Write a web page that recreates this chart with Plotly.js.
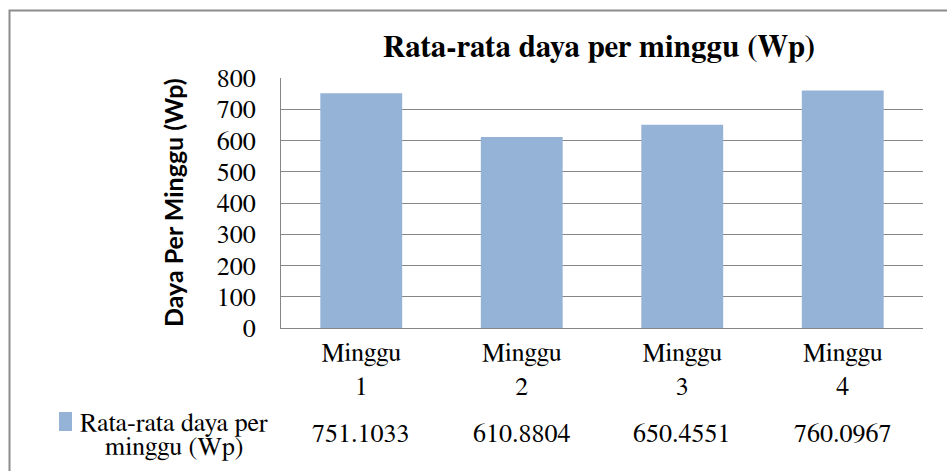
<!DOCTYPE html>
<html><head><meta charset="utf-8">
<script src="https://cdn.plot.ly/plotly-3.0.1.min.js"></script>
<style>html,body{margin:0;padding:0;background:#fff}#c{width:947px;height:471px}</style>
</head><body><div id="c"></div>
<script>
const categories = ["Minggu 1", "Minggu 2", "Minggu 3", "Minggu 4"];
const tickLabels = ["Minggu<br>1", "Minggu<br>2", "Minggu<br>3", "Minggu<br>4"];
const values = [751.1033, 610.8804, 650.4551, 760.0967];
const valueLabels = ["751.1033", "610.8804", "650.4551", "760.0967"];
const seriesNameLines = ["Rata-rata daya per", "minggu (Wp)"];
const chartTitle = "Rata-rata daya per minggu (Wp)";
const yTitle = "Daya Per Minggu (Wp)";

const W = 947, H = 471, L = 281, R = 24, T = 78, B = 143;
const pw = W - L - R, ph = H - T - B;
const px = x => (x - L) / pw;
const py = y => (H - B - y) / ph;
const serif = "FreeSerif, 'DejaVu Serif Condensed', serif";

const annotations = [];
categories.forEach((c, i) => {
  annotations.push({x: c, xref: "x", y: py(434), yref: "paper", text: valueLabels[i],
    showarrow: false, font: {family: serif, size: 26, color: "#000"}, xanchor: "center", yanchor: "middle"});
});
const legendY = [423, 447];
seriesNameLines.forEach((t, i) => {
  annotations.push({x: px(174), xref: "paper", y: py(legendY[i]), yref: "paper", text: t,
    showarrow: false, font: {family: serif, size: 26, color: "#000"}, xanchor: "center", yanchor: "middle"});
});
annotations.push({x: px(173), xref: "paper", y: py(203), yref: "paper", text: "<b>" + yTitle + "</b>",
  textangle: -90, showarrow: false, font: {family: "Lato", size: 25, color: "#000"}, xanchor: "center", yanchor: "middle"});
annotations.push({x: px(599), xref: "paper", y: py(48), yref: "paper", text: "<b>" + chartTitle + "</b>",
  showarrow: false, font: {family: serif, size: 31, color: "#000"}, xanchor: "center", yanchor: "middle"});

const shapes = [
  {type: "rect", xref: "paper", yref: "paper", x0: px(9.5), x1: px(960), y0: py(490), y1: py(10.5),
   line: {color: "#8c8c8c", width: 2}, fillcolor: "rgba(0,0,0,0)", layer: "below"},
  {type: "rect", xref: "paper", yref: "paper", x0: px(59), x1: px(72), y0: py(431), y1: py(412),
   line: {width: 0}, fillcolor: "#95B3D7"}
];

Plotly.newPlot("c", [{
  type: "bar", x: categories, y: values, name: seriesNameLines.join(" "),
  marker: {color: "#95B3D7"}, hoverinfo: "none"
}], {
  width: W, height: H,
  margin: {l: L, r: R, t: T, b: B, pad: 0},
  paper_bgcolor: "#fff", plot_bgcolor: "#fff",
  showlegend: false, bargap: 0.49,
  xaxis: {type: "category", tickvals: categories, ticktext: tickLabels, showgrid: false,
    showline: true, linecolor: "#868686", linewidth: 1, ticks: "", ticklabelstandoff: 1,
    tickfont: {family: serif, size: 26, color: "#000"}, fixedrange: true},
  yaxis: {range: [0, 800], dtick: 100, tick0: 0, showgrid: true, gridcolor: "#868686", gridwidth: 1,
    showline: true, linecolor: "#868686", linewidth: 1, zeroline: false, ticks: "",
    tickfont: {family: serif, size: 26, color: "#000"}, ticklabelstandoff: 19, fixedrange: true},
  annotations: annotations, shapes: shapes
}, {displayModeBar: false, staticPlot: true});
</script></body></html>
